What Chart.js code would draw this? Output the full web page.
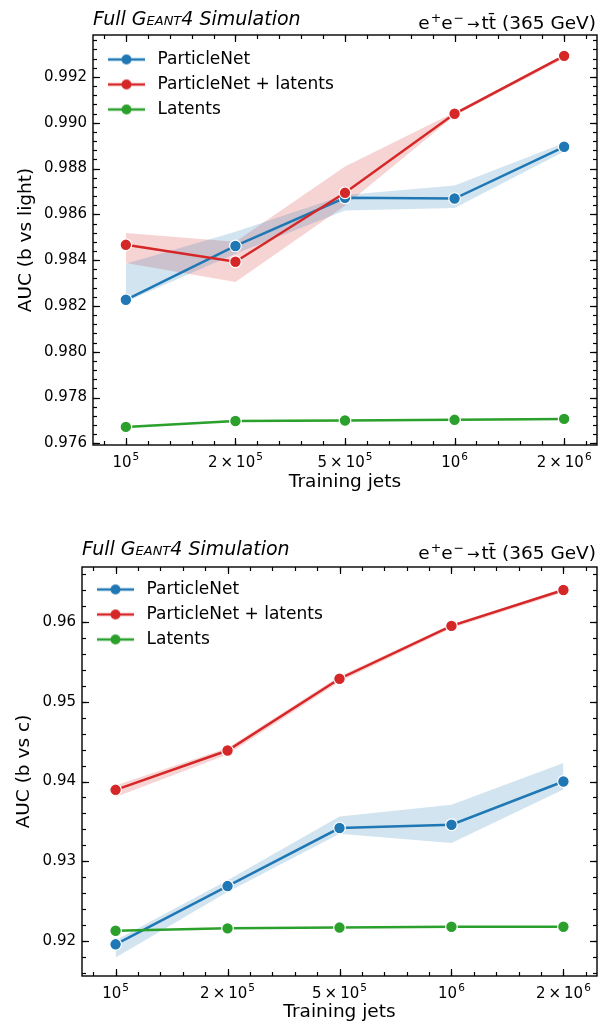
<!DOCTYPE html>
<html lang="en">
<head>
<meta charset="UTF-8">
<title>AUC vs training jets</title>
<script src="https://cdn.jsdelivr.net/npm/chart.js"></script>
<style>
    html, body { margin: 0; padding: 0; background: #fff; overflow: hidden; }
    body { font-family: "DejaVu Sans", sans-serif; color: #000; }
    .panel { position: relative; width: 605px; }
    .head { position: absolute; line-height: 20px; white-space: nowrap; }
    .sim { font-size: 19px; font-style: italic; }
    .sc { font-variant: small-caps; }
    .proc { right: 9px; font-size: 18.5px; }
    .sup { font-size: 12.5px; vertical-align: 7px; margin-left: 1px; }
    .arr { font-size: 15px; margin: 0 2px 0 3px; }
    canvas { display: block; }
</style>
</head>
<body>

<div class="panel" style="height:505px">
    <div class="head sim" style="left:93px;top:8px">Full G<span class="sc">eant</span>4 Simulation</div>
    <div class="head proc" style="top:8px">e<span class="sup">+</span>e<span class="sup">−</span><span class="arr">→</span>tt&#772; (365 GeV)</div>
    <canvas id="chartLight" width="605" height="505"></canvas>
</div>
<div class="panel" style="height:530px">
    <div class="head sim" style="left:82px;top:33px">Full G<span class="sc">eant</span>4 Simulation</div>
    <div class="head proc" style="top:33px">e<span class="sup">+</span>e<span class="sup">−</span><span class="arr">→</span>tt&#772; (365 GeV)</div>
    <canvas id="chartC" width="605" height="530"></canvas>
</div>

<script>
    // x positions (evenly spaced categories) and their labels
    const xPos = [0, 1, 2, 3, 4];
    const xLabels = ['10⁵', '2×10⁵', '5×10⁵', '10⁶', '2×10⁶'];
    const seriesNames = ['ParticleNet', 'ParticleNet + latents', 'Latents'];

    // AUC (b vs light)
    const pnLight      = [0.98227, 0.98462, 0.98672, 0.98669, 0.98895];
    const pnLightLo    = [0.98218, 0.98428, 0.98617, 0.98628, 0.98874];
    const pnLightHi    = [0.98384, 0.98524, 0.98685, 0.98726, 0.98912];
    const pnLatLight   = [0.98467, 0.98393, 0.98694, 0.99039, 0.99292];
    const pnLatLightLo = [0.98388, 0.98305, 0.98637, 0.99030, 0.99280];
    const pnLatLightHi = [0.98519, 0.98480, 0.98809, 0.99046, 0.99298];
    const latLight     = [0.97672, 0.97698, 0.97700, 0.97703, 0.97707];
    const latLightLo   = [0.97668, 0.97694, 0.97696, 0.97699, 0.97703];
    const latLightHi   = [0.97676, 0.97702, 0.97704, 0.97707, 0.97711];
    const yTicksLight  = [0.976, 0.978, 0.980, 0.982, 0.984, 0.986, 0.988, 0.990, 0.992];

    // AUC (b vs c)
    const pnC      = [0.91960, 0.92690, 0.93417, 0.93458, 0.94000];
    const pnCLo    = [0.91795, 0.92617, 0.93346, 0.93229, 0.93900];
    const pnCHi    = [0.92010, 0.92763, 0.93563, 0.93708, 0.94231];
    const pnLatC   = [0.93896, 0.94388, 0.95288, 0.95950, 0.96400];
    const pnLatCLo = [0.93805, 0.94340, 0.95250, 0.95920, 0.96370];
    const pnLatCHi = [0.93950, 0.94420, 0.95320, 0.95970, 0.96420];
    const latC     = [0.92130, 0.92160, 0.92170, 0.92180, 0.92180];
    const latCLo   = [0.92126, 0.92156, 0.92166, 0.92176, 0.92176];
    const latCHi   = [0.92134, 0.92164, 0.92174, 0.92184, 0.92184];
    const yTicksC  = [0.92, 0.93, 0.94, 0.95, 0.96];

    const colors = ['#1f77b4', '#d62728', '#2ca02c'];
    const bands  = ['rgba(31,119,180,0.2)', 'rgba(214,39,40,0.2)', 'rgba(44,160,44,0.2)'];
    const FONT = "'DejaVu Sans', sans-serif";

    function pts(arr) {
        return xPos.map((x, i) => ({ x: x, y: arr[i] }));
    }

    // little line+dot glyph for the legend
    function legendMark(color) {
        const c = document.createElement('canvas');
        c.width = 48; c.height = 14;
        const g = c.getContext('2d');
        g.strokeStyle = color; g.lineWidth = 2.5;
        g.beginPath(); g.moveTo(7, 7); g.lineTo(44, 7); g.stroke();
        g.fillStyle = color;
        g.beginPath(); g.arc(25.5, 7, 5, 0, Math.PI * 2); g.fill();
        return c;
    }
    const marks = colors.map(legendMark);

    // chartArea legends get top = 0 from Chart.js, put it back inside the plot
    const legendInside = {
        id: 'legendInside',
        afterLayout(chart) {
            const l = chart.legend, a = chart.chartArea;
            if (!l) return;
            l.top = a.top; l.bottom = a.top + l.height;
            l.left = a.left; l.right = a.left + l.width;
        }
    };

    // x tick labels with a real raised exponent (10^5 style)
    const supMap = { '⁰': '0', '¹': '1', '²': '2', '³': '3', '⁴': '4', '⁵': '5', '⁶': '6', '⁷': '7', '⁸': '8', '⁹': '9' };
    const xTickText = {
        id: 'xTickText',
        afterDraw(chart) {
            const { ctx, chartArea: a, scales: { x } } = chart;
            ctx.save();
            ctx.fillStyle = '#000';
            ctx.textBaseline = 'alphabetic';
            ctx.textAlign = 'left';
            x.ticks.forEach((t, i) => {
                const lab = xLabels[i];
                const base = lab.slice(0, -1).replace('×', '\u2009×\u2009');
                const exp = supMap[lab.slice(-1)];
                ctx.font = '15px ' + FONT;
                const wb = ctx.measureText(base).width;
                ctx.font = '10.5px ' + FONT;
                const we = ctx.measureText(exp).width;
                const left = x.getPixelForValue(t.value) - (wb + we + 1) / 2;
                const by = a.bottom + 22;
                ctx.font = '15px ' + FONT;
                ctx.fillText(base, left, by);
                ctx.font = '10.5px ' + FONT;
                ctx.fillText(exp, left + wb + 1, by - 7);
            });
            ctx.restore();
        }
    };

    // inward ticks on all four sides + frame
    const frameTicks = {
        id: 'frameTicks',
        afterDraw(chart, args, o) {
            const { ctx, chartArea: a, scales: { x, y } } = chart;
            ctx.save();
            ctx.strokeStyle = '#000';
            ctx.lineWidth = 1.2;
            const seg = (x1, y1, x2, y2) => { ctx.beginPath(); ctx.moveTo(x1, y1); ctx.lineTo(x2, y2); ctx.stroke(); };
            const doX = (vals, len) => vals.forEach(v => {
                const p = Math.round(x.getPixelForValue(v)) + 0.5;
                if (p < a.left || p > a.right) return;
                seg(p, a.bottom, p, a.bottom - len);
                seg(p, a.top, p, a.top + len);
            });
            const doY = (vals, len) => vals.forEach(v => {
                const p = Math.round(y.getPixelForValue(v)) + 0.5;
                if (p < a.top || p > a.bottom) return;
                seg(a.left, p, a.left + len, p);
                seg(a.right, p, a.right - len, p);
            });
            doX(o.xMajor, 7); doX(o.xMinor, 4);
            doY(o.yMajor, 7); doY(o.yMinor, 4);
            ctx.lineWidth = 1.4;
            ctx.strokeRect(a.left, a.top, a.right - a.left, a.bottom - a.top);
            ctx.restore();
        }
    };

    function steps(from, to, step) {
        const out = [];
        for (let v = from; v <= to + step / 2; v += step) out.push(+v.toFixed(6));
        return out;
    }

    function makeChart(id, cfg) {
        const main = [cfg.pn, cfg.pnLat, cfg.lat];
        const lows = [cfg.pnLo, cfg.pnLatLo, cfg.latLo];
        const highs = [cfg.pnHi, cfg.pnLatHi, cfg.latHi];
        const datasets = [];
        main.forEach((arr, i) => {
            datasets.push({
                label: seriesNames[i],
                data: pts(arr),
                borderColor: colors[i],
                backgroundColor: colors[i],
                borderWidth: 2.5,
                pointRadius: 5.8,
                pointBackgroundColor: colors[i],
                pointBorderColor: '#fff',
                pointBorderWidth: 1.2,
                fill: false,
                order: 3 - i
            });
        });
        main.forEach((arr, i) => {
            datasets.push({
                label: 'hi' + i, data: pts(highs[i]),
                borderWidth: 0, pointRadius: 0, backgroundColor: bands[i],
                fill: '+1', order: 10
            });
            datasets.push({
                label: 'lo' + i, data: pts(lows[i]),
                borderWidth: 0, pointRadius: 0, fill: false, order: 10
            });
        });

        return new Chart(document.getElementById(id), {
            type: 'line',
            data: { datasets: datasets },
            options: {
                responsive: false,
                animation: false,
                layout: { padding: { top: cfg.top, right: 8, left: 0, bottom: 0 } },
                scales: {
                    x: {
                        type: 'linear', min: -0.3, max: 4.3,
                        afterBuildTicks: s => { s.ticks = xPos.map(v => ({ value: v })); },
                        afterFit: s => { s.height = cfg.xHeight; },
                        grid: { display: false, drawTicks: false },
                        border: { display: false },
                        ticks: { display: false },
                        title: {
                            display: true, text: 'Training jets', color: '#000',
                            font: { size: 18.5, family: FONT }, padding: { top: 0, bottom: 12 }
                        }
                    },
                    y: {
                        min: cfg.yMin, max: cfg.yMax,
                        afterBuildTicks: s => { s.ticks = cfg.yTicks.map(v => ({ value: v })); },
                        afterFit: s => { s.width = cfg.yWidth; },
                        grid: { display: false, drawTicks: false },
                        border: { display: false },
                        ticks: {
                            callback: v => v.toFixed(cfg.digits),
                            font: { size: 15, family: FONT }, color: '#000', padding: 6
                        },
                        title: {
                            display: true, text: cfg.yTitle, color: '#000',
                            font: { size: 18.5, family: FONT }, padding: { top: cfg.yTitlePad, bottom: 0 }
                        }
                    }
                },
                plugins: {
                    tooltip: { enabled: false },
                    legend: {
                        position: 'chartArea',
                        align: 'start',
                        title: { display: true, text: '', padding: 0, font: { size: cfg.legendGap, lineHeight: 1 } },
                        labels: {
                            usePointStyle: true,
                            pointStyleWidth: 48,
                            padding: 8,
                            color: '#000',
                            font: { size: 17, family: FONT },
                            sort: (a, b) => a.datasetIndex - b.datasetIndex,
                            generateLabels: chart => Chart.defaults.plugins.legend.labels.generateLabels(chart)
                                .filter(it => it.datasetIndex < 3)
                                .map(it => Object.assign(it, { pointStyle: marks[it.datasetIndex] }))
                        }
                    },
                    frameTicks: {
                        xMajor: xPos, xMinor: steps(-0.2, 4.2, 0.2),
                        yMajor: cfg.yTicks, yMinor: cfg.yMinor
                    }
                }
            },
            plugins: [legendInside, xTickText, frameTicks]
        });
    }

    makeChart('chartLight', {
        pn: pnLight, pnLo: pnLightLo, pnHi: pnLightHi,
        pnLat: pnLatLight, pnLatLo: pnLatLightLo, pnLatHi: pnLatLightHi,
        lat: latLight, latLo: latLightLo, latHi: latLightHi,
        yTicks: yTicksLight, yMinor: steps(0.976, 0.9936, 0.0004), digits: 3,
        yMin: 0.97593, yMax: 0.99383, yTitle: 'AUC (b vs light)',
        top: 35, xHeight: 60, yWidth: 93, yTitlePad: 15, legendGap: 8
    });

    makeChart('chartC', {
        pn: pnC, pnLo: pnCLo, pnHi: pnCHi,
        pnLat: pnLatC, pnLatLo: pnLatCLo, pnLatHi: pnLatCHi,
        lat: latC, latLo: latCLo, latHi: latCHi,
        yTicks: yTicksC, yMinor: steps(0.916, 0.966, 0.002), digits: 2,
        yMin: 0.91563, yMax: 0.96688, yTitle: 'AUC (b vs c)',
        top: 62, xHeight: 59, yWidth: 82, yTitlePad: 13, legendGap: 6
    });
</script>

</body>
</html>
